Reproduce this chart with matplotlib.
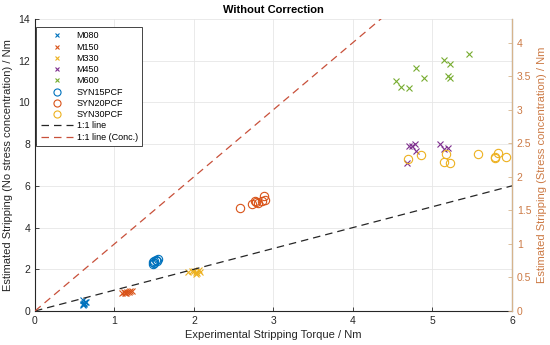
import matplotlib
matplotlib.use("Agg")
import matplotlib.pyplot as plt

plt.rcParams['font.family'] = ['Liberation Sans', 'DejaVu Sans']

# ---- data (experimental torque, estimated stripping torque, left-axis units) ----
m080_x = [0.60, 0.62, 0.63, 0.61, 0.64, 0.60, 0.62]
m080_y = [0.30, 0.38, 0.45, 0.35, 0.42, 0.52, 0.33]
m150_x = [1.10, 1.13, 1.16, 1.18, 1.20, 1.15, 1.22, 1.12]
m150_y = [0.85, 0.88, 0.90, 0.93, 0.98, 0.85, 0.95, 0.90]
m330_x = [1.92, 1.98, 2.02, 2.04, 2.06, 2.08, 2.03, 2.00]
m330_y = [1.85, 1.90, 1.88, 1.82, 1.95, 1.86, 1.78, 1.92]
m450_x = [4.68, 4.71, 4.74, 4.78, 4.79, 5.10, 5.14, 5.19]
m450_y = [7.11, 7.91, 7.92, 8.00, 7.65, 8.00, 7.76, 7.83]
m600_x = [4.54, 4.60, 4.70, 4.79, 4.89, 5.14, 5.22, 5.19, 5.22, 5.46]
m600_y = [11.05, 10.76, 10.68, 11.67, 11.18, 12.04, 11.84, 11.27, 11.16, 12.30]
syn15_x = [1.48, 1.49, 1.50, 1.52, 1.53, 1.55, 1.50]
syn15_y = [2.25, 2.35, 2.42, 2.45, 2.40, 2.50, 2.30]
syn20_x = [2.58, 2.73, 2.77, 2.81, 2.86, 2.89, 2.88, 2.78]
syn20_y = [4.94, 5.15, 5.26, 5.20, 5.26, 5.31, 5.52, 5.23]
syn30_x = [4.69, 4.86, 5.17, 5.14, 5.22, 5.57, 5.79, 5.79, 5.83, 5.92]
syn30_y = [7.27, 7.49, 7.52, 7.15, 7.11, 7.51, 7.37, 7.32, 7.59, 7.40]

line_x = [0, 6]
line_y = [0, 6]          # 1:1 line on left axis
conc_y = [0, 6]          # 1:1 line on right axis

xlim = (0, 6)
ylim_left = (0, 14)
ylim_right = (0, 4.35)

c_blue = '#0072BD'
c_orange = '#D95319'
c_yellow = '#EDB120'
c_purple = '#7E2F8E'
c_green = '#77AC30'
c_right_spine = '#D6B48C'
c_right = '#CC7A45'

fig = plt.figure(figsize=(5.5, 3.45), dpi=100)
ax = fig.add_axes([0.0636, 0.0986, 0.8673, 0.8463])
ax2 = ax.twinx()

ms_x = 4.2
ms_o = 6
lw = 0.8
ax.plot(m080_x, m080_y, 'x', color=c_blue, ms=ms_x, mew=lw, label='M080')
ax.plot(m150_x, m150_y, 'x', color=c_orange, ms=ms_x, mew=lw, label='M150')
ax.plot(m330_x, m330_y, 'x', color=c_yellow, ms=ms_x, mew=lw, label='M330')
ax.plot(m450_x, m450_y, 'x', color=c_purple, ms=ms_x, mew=lw, label='M450')
ax.plot(m600_x, m600_y, 'x', color=c_green, ms=ms_x, mew=lw, label='M600')
ax.plot(syn15_x, syn15_y, 'o', mfc='none', mec=c_blue, ms=ms_o, mew=lw, label='SYN15PCF')
ax.plot(syn20_x, syn20_y, 'o', mfc='none', mec=c_orange, ms=ms_o, mew=lw, label='SYN20PCF')
ax.plot(syn30_x, syn30_y, 'o', mfc='none', mec=c_yellow, ms=ms_o, mew=lw, label='SYN30PCF')
ax.plot(line_x, line_y, '--', color='#262626', lw=0.9, dashes=(6, 4), label='1:1 line')
l2, = ax2.plot(line_x, conc_y, '--', color='#C8503A', lw=0.9, dashes=(6, 4), label='1:1 line (Conc.)')

ax.set_xlim(*xlim)
ax.set_ylim(*ylim_left)
ax2.set_ylim(*ylim_right)
ax.set_xticks(range(0, 7))
ax.set_yticks(range(0, 15, 2))
ax2.set_yticks([0, 0.5, 1, 1.5, 2, 2.5, 3, 3.5, 4])
ax2.set_yticklabels(['0', '0.5', '1', '1.5', '2', '2.5', '3', '3.5', '4'])

ax.grid(True, color='#e6e6e6', lw=0.6)
ax.set_axisbelow(True)

for a in (ax, ax2):
    a.spines['top'].set_visible(False)
ax.spines['left'].set_color('#262626')
ax.spines['bottom'].set_color('#262626')
ax2.spines['right'].set_color(c_right_spine)
ax2.spines['left'].set_visible(False)
ax2.spines['bottom'].set_visible(False)

fs = 7.5
ax.tick_params(direction='in', length=3, width=0.6, labelsize=fs, colors='#262626', top=False)
ax2.tick_params(axis='y', direction='in', length=3, width=0.6, labelsize=fs,
                color=c_right_spine, labelcolor=c_right)

ax.set_xlabel('Experimental Stripping Torque / Nm', fontsize=fs + 0.5, color='#262626', labelpad=3)
ax.set_ylabel('Estimated Stripping (No stress concentration) / Nm', fontsize=fs + 0.5, color='#262626', labelpad=4)
ax2.set_ylabel('Estimated Stripping (Stress concentration) / Nm', fontsize=fs + 0.5, color=c_right, labelpad=4)
ax.set_title('Without Correction', fontsize=fs + 0.5, fontweight='bold', pad=4)

handles, labels = ax.get_legend_handles_labels()
handles.append(l2)
labels.append('1:1 line (Conc.)')
leg = ax2.legend(handles, labels, loc='upper left', fontsize=6.5, frameon=True, fancybox=False,
                 edgecolor='#262626', framealpha=1, borderpad=0.5, labelspacing=0.25,
                 handlelength=3.6, handletextpad=0.35, markerscale=0.85, borderaxespad=0,
                 bbox_to_anchor=(0.003, 0.973))
leg.get_frame().set_linewidth(0.6)

fig.savefig('out.png', dpi=100)
